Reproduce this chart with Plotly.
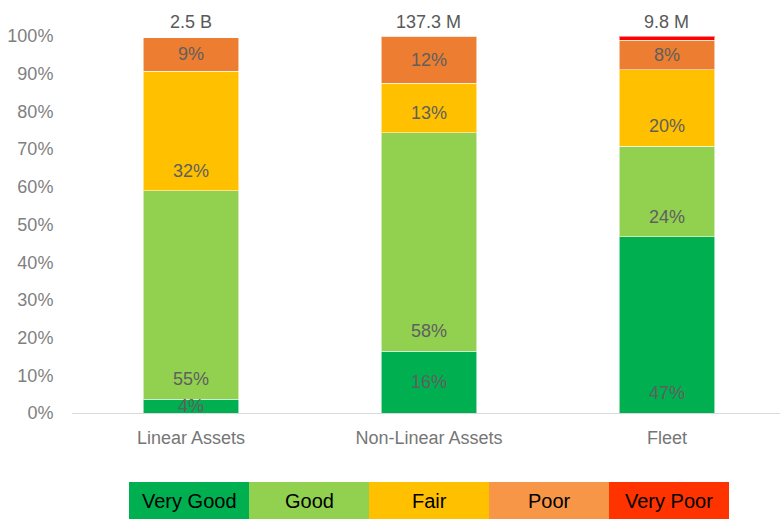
import plotly.graph_objects as go

categories = ["Linear Assets", "Non-Linear Assets", "Fleet"]
series_names = ["Very Good", "Good", "Fair", "Poor", "Very Poor"]
very_good = [0.037, 0.164, 0.467]
good = [0.552, 0.579, 0.241]
fair = [0.318, 0.132, 0.202]
poor = [0.088, 0.125, 0.079]
very_poor = [0.0, 0.0, 0.011]
label_text = [
    ["4%", "16%", "47%"],
    ["55%", "58%", "24%"],
    ["32%", "13%", "20%"],
    ["9%", "12%", "8%"],
    ["", "", ""],
]
totals = ["2.5 B", "137.3 M", "9.8 M"]
y_ticks = [i / 10 for i in range(11)]

bar_colors = ["#00B050", "#92D050", "#FFC000", "#ED7D31", "#FF0000"]
legend_colors = ["#00B050", "#92D050", "#FFC000", "#F79646", "#FF3300"]
# label placement per series: "auto" = centred if small else near base
label_modes = ["auto", "base", "base", "center", "center"]

W, H = 780, 519
ML, MR, MT, MB = 72, 0, 36, H - 413
PW, PH = W - ML - MR, H - MT - MB

values = [very_good, good, fair, poor, very_poor]

fig = go.Figure()
for name, vals, col in zip(series_names, values, bar_colors):
    fig.add_trace(go.Bar(
        x=categories, y=vals, name=name, width=0.4,
        marker=dict(color=col, line=dict(color="rgba(255,255,255,0.55)", width=1)),
        showlegend=False, hoverinfo="skip",
    ))

annotations = []
# segment labels
for ci in range(len(categories)):
    base = 0.0
    for si, vals in enumerate(values):
        seg = vals[ci]
        txt = label_text[si][ci]
        mode = label_modes[si]
        if txt:
            if mode == "center" or (mode == "auto" and seg < 0.17):
                ypos = base + seg / 2
            else:
                ypos = base + 0.054
            annotations.append(dict(
                x=categories[ci], y=ypos, xref="x", yref="y", text=txt,
                showarrow=False, yanchor="middle",
                font=dict(family="Liberation Sans, Arial", size=18, color="#5F5F5F"),
            ))
        base += seg
# totals
for ci, t in enumerate(totals):
    annotations.append(dict(
        x=categories[ci], y=1.0, xref="x", yref="y", text=t, showarrow=False,
        yanchor="bottom", yshift=2,
        font=dict(family="Liberation Sans, Arial", size=18, color="#595959"),
    ))

# legend boxes
shapes = []
box_w, box_left, box_top, box_bot = 120, 129, 482, 519
plot_bottom = H - MB
for i, (name, col) in enumerate(zip(series_names, legend_colors)):
    x0 = (box_left + i * box_w - ML) / PW
    x1 = (box_left + (i + 1) * box_w - ML) / PW
    y0 = (plot_bottom - box_bot) / PH
    y1 = (plot_bottom - box_top) / PH
    shapes.append(dict(type="rect", xref="paper", yref="paper", x0=x0, x1=x1,
                       y0=y0, y1=y1, fillcolor=col, line=dict(width=0), layer="above"))
    annotations.append(dict(
        x=(x0 + x1) / 2, y=(y0 + y1) / 2, xref="paper", yref="paper", text=name,
        showarrow=False, xanchor="center", yanchor="middle",
        font=dict(family="Liberation Sans, Arial", size=20, color="#000000"),
    ))

fig.update_layout(
    barmode="stack",
    width=W, height=H,
    margin=dict(l=ML, r=MR, t=MT, b=MB),
    paper_bgcolor="white", plot_bgcolor="white",
    annotations=annotations, shapes=shapes,
    xaxis=dict(
        range=[-0.5, 2.475], showgrid=False, showline=True, linecolor="#D9D9D9",
        linewidth=1, ticks="outside", ticklen=8, tickcolor="rgba(0,0,0,0)",
        tickfont=dict(family="Liberation Sans, Arial", size=18, color="#767676"),
        fixedrange=True,
    ),
    yaxis=dict(
        range=[0, 1], tickvals=y_ticks, tickformat=".0%", showgrid=False,
        zeroline=False, showline=False, ticks="outside", ticklen=14,
        tickcolor="rgba(0,0,0,0)",
        tickfont=dict(family="Liberation Sans, Arial", size=18, color="#7F7F7F"),
        fixedrange=True,
    ),
)

fig.write_html(
    "out.html",
    config={"displayModeBar": False, "staticPlot": True},
    post_script="document.body.style.margin='0';document.body.style.overflow='hidden';",
)
